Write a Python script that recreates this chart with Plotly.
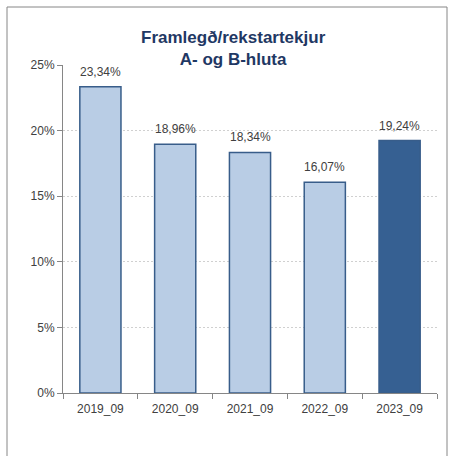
import plotly.graph_objects as go

categories = ["2019_09", "2020_09", "2021_09", "2022_09", "2023_09"]
values = [23.34, 18.96, 18.34, 16.07, 19.24]
tick_vals = [0, 5, 10, 15, 20, 25]
tick_text = ["0%", "5%", "10%", "15%", "20%", "25%"]
title_lines = ["Framlegð/rekstartekjur", "A- og B-hluta"]

fill_colors = ["#B9CDE5"] * 4 + ["#366092"]
labels = [f"{v:.2f}".replace(".", ",") + "%" for v in values]

W, H = 455, 456
L, R, T, B = 63, 18, 65, 63
pw, ph = W - L - R, H - T - B
FONT = "Liberation Sans, Arial, sans-serif"

def px_x(x):
    return (x - L) / pw

def px_y(y):
    return (H - B - y) / ph

fig = go.Figure(go.Bar(
    x=categories, y=values,
    marker=dict(color=fill_colors, line=dict(color="#385D8A", width=1.5)),
    width=0.55, hoverinfo="x+y",
))

annotations = [dict(
    x=c, y=v, xref="x", yref="y", text=t, showarrow=False,
    yanchor="middle", yshift=15,
    font=dict(size=12, color="#404040", family=FONT),
) for c, v, t in zip(categories, values, labels)]

annotations.append(dict(
    text="<b>" + "<br>".join(title_lines) + "</b>",
    xref="paper", yref="paper", x=px_x(233), y=px_y(48),
    xanchor="center", yanchor="middle", showarrow=False,
    font=dict(size=17, color="#1F3864", family=FONT),
))

fig.update_layout(
    width=W, height=H,
    margin=dict(l=L, r=R, t=T, b=B),
    paper_bgcolor="white", plot_bgcolor="white",
    showlegend=False,
    font=dict(family=FONT, size=12, color="#404040"),
    annotations=annotations,
    shapes=[dict(
        type="rect", xref="paper", yref="paper",
        x0=px_x(7), x1=px_x(447), y0=px_y(470), y1=px_y(7),
        line=dict(color="#868686", width=1), layer="below",
    )],
)

fig.update_yaxes(
    range=[0, 25], tickvals=tick_vals, ticktext=tick_text,
    showgrid=True, gridcolor="#D0D0D0", griddash="2px,2px", gridwidth=1,
    showline=True, linecolor="#868686", linewidth=1,
    ticks="outside", ticklen=5, tickcolor="#868686",
    zeroline=False, tickfont=dict(size=12, color="#404040"),
)
fig.update_xaxes(
    showline=True, linecolor="#868686", linewidth=1,
    ticks="outside", ticklen=5, tickcolor="#868686", tickson="boundaries",
    ticklabelstandoff=5,
    showgrid=False, tickfont=dict(size=12, color="#404040"),
)

fig.write_html(
    "out.html",
    config={"displayModeBar": False},
    post_script="document.body.style.margin='0';document.body.style.overflow='hidden';",
)
